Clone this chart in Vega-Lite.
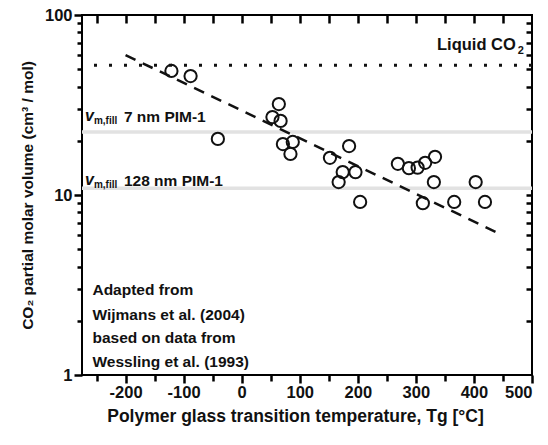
{
  "$schema": "https://vega.github.io/schema/vega-lite/v6.json",
  "width": 450,
  "height": 360,
  "autosize": "none",
  "padding": {"left": 82, "top": 15, "right": 16, "bottom": 70},
  "background": "white",
  "config": {
    "view": {"stroke": "black", "strokeWidth": 2},
    "font": "Liberation Sans",
    "axis": {"domain": false, "grid": false, "ticks": true, "tickColor": "black", "tickOpacity": 1, "tickWidth": 2.5, "labelColor": "#111", "titleColor": "#111", "zindex": 1},
    "text": {"font": "Liberation Sans", "fontWeight": "bold", "color": "#111"}
  },
  "resolve": {"axis": {"x": "independent", "y": "independent"}},
  "datasets": {
    "points": [
      {"tg": -121, "v": 48.9}, {"tg": -88, "v": 45.8}, {"tg": -41, "v": 20.5},
      {"tg": 53, "v": 27.1}, {"tg": 64, "v": 32}, {"tg": 67, "v": 25.8},
      {"tg": 71, "v": 19.2}, {"tg": 84, "v": 16.9}, {"tg": 88, "v": 19.7},
      {"tg": 152, "v": 16.1}, {"tg": 167, "v": 11.8}, {"tg": 174, "v": 13.4},
      {"tg": 185, "v": 18.7}, {"tg": 196, "v": 13.4}, {"tg": 204, "v": 9.15},
      {"tg": 269, "v": 14.9}, {"tg": 288, "v": 14.1}, {"tg": 303, "v": 14.2},
      {"tg": 312, "v": 9.0}, {"tg": 316, "v": 15.1}, {"tg": 331, "v": 11.8},
      {"tg": 333, "v": 16.3}, {"tg": 366, "v": 9.15}, {"tg": 403, "v": 11.8},
      {"tg": 419, "v": 9.15}
    ],
    "fit": [{"tg": -200, "v": 59.9}, {"tg": 438, "v": 6.22}],
    "note": [
      {"tg": -257, "v": 2.78, "label": "Adapted from"},
      {"tg": -257, "v": 2.02, "label": "Wijmans et al. (2004)"},
      {"tg": -257, "v": 1.51, "label": "based on data from"},
      {"tg": -257, "v": 1.11, "label": "Wessling et al. (1993)"}
    ],
    "pim": [
      {"tg": -270, "v": 27.1, "label": "7 nm PIM-1"},
      {"tg": -270, "v": 12.0, "label": "128 nm PIM-1"}
    ],
    "liquid": [{"tg": 486, "v": 68.1, "label": "Liquid CO", "sub": "2"}]
  },
  "layer": [
    {
      "data": {"values": [{"v": 22.4}, {"v": 10.9}]},
      "mark": {"type": "rule", "color": "#e2e2e2", "strokeWidth": 3.5},
      "encoding": {"y": {"field": "v", "type": "quantitative", "axis": null}}
    },
    {
      "data": {"values": [{"v": 52.5}]},
      "mark": {"type": "rule", "color": "#111", "strokeWidth": 3, "strokeDash": [3, 12]},
      "encoding": {"y": {"field": "v", "type": "quantitative", "axis": null}}
    },
    {
      "data": {"name": "points"},
      "mark": {"type": "point", "shape": "circle", "filled": false, "stroke": "#111", "strokeWidth": 2, "size": 150, "opacity": 1},
      "encoding": {
        "x": {
          "field": "tg", "type": "quantitative",
          "scale": {"domain": [-275, 500], "nice": false, "zero": false},
          "axis": {
            "orient": "bottom", "values": [-200, -100, 0, 100, 200, 300, 400, 500],
            "labelExpr": "'' + datum.value",
            "tickColor": "black", "tickSize": 8, "labelPadding": 1,
            "labelFont": "Liberation Sans", "labelFontWeight": "bold", "labelFontSize": 16.5,
            "title": "Polymer glass transition temperature, Tg  [°C]",
            "titleFont": "Liberation Sans", "titleFontWeight": "bold", "titleFontSize": 17.5, "titlePadding": 7,
            "titleX": 213
          }
        },
        "y": {
          "field": "v", "type": "quantitative",
          "scale": {"type": "log", "domain": [1, 100], "nice": false},
          "axis": {
            "orient": "left", "values": [1, 10, 100], "format": "d",
            "tickColor": "black", "tickSize": 8, "labelPadding": 2,
            "labelFont": "Liberation Sans", "labelFontWeight": "bold", "labelFontSize": 16.5,
            "title": "CO₂ partial molar volume (cm³ / mol)",
            "titleFont": "Liberation Sans", "titleFontWeight": "bold", "titleFontSize": 15.5, "titlePadding": 9,
            "titleY": 180
          }
        }
      }
    },
    {
      "data": {"name": "fit"},
      "mark": {"type": "line", "color": "#111", "strokeWidth": 2.5, "strokeDash": [11, 8]},
      "encoding": {
        "x": {
          "field": "tg", "type": "quantitative",
          "axis": {"orient": "bottom", "offset": -360, "values": [-250, -200, -150, -100, -50, 0, 50, 100, 150, 200, 250, 300, 350, 400, 450], "labels": false, "title": null, "tickColor": "black", "tickSize": 8}
        },
        "y": {
          "field": "v", "type": "quantitative",
          "axis": {"orient": "left", "offset": -450, "values": [2, 3, 4, 5, 6, 7, 8, 9, 10, 20, 30, 40, 50, 60, 70, 80, 90], "labels": false, "title": null, "tickColor": "black", "tickSize": 6}
        }
      }
    },
    {
      "data": {"name": "note"},
      "mark": {"type": "text", "align": "left", "baseline": "alphabetic", "fontSize": 15.5},
      "encoding": {
        "x": {
          "field": "tg", "type": "quantitative",
          "axis": {"orient": "bottom", "values": [-250, -150, -50, 50, 150, 250, 350, 450], "labels": false, "title": null, "tickColor": "black", "tickSize": 6}
        },
        "y": {
          "field": "v", "type": "quantitative",
          "axis": {"orient": "left", "values": [2, 3, 4, 5, 6, 7, 8, 9, 20, 30, 40, 50, 60, 70, 80, 90], "labels": false, "title": null, "tickColor": "black", "tickSize": 5}
        },
        "text": {"field": "label"}
      }
    },
    {
      "data": {"name": "pim"},
      "mark": {"type": "text", "align": "left", "baseline": "middle", "fontSize": 16, "fontStyle": "italic", "dy": -1},
      "encoding": {
        "x": {"field": "tg", "type": "quantitative", "axis": null},
        "y": {"field": "v", "type": "quantitative", "axis": null},
        "text": {"value": "v"}
      }
    },
    {
      "data": {"name": "pim"},
      "mark": {"type": "text", "align": "left", "baseline": "middle", "fontSize": 10, "dx": 9, "dy": 4},
      "encoding": {
        "x": {"field": "tg", "type": "quantitative", "axis": null},
        "y": {"field": "v", "type": "quantitative", "axis": null},
        "text": {"value": "m,fill"}
      }
    },
    {
      "data": {"name": "pim"},
      "mark": {"type": "text", "align": "left", "baseline": "middle", "fontSize": 15.5, "dx": 39},
      "encoding": {
        "x": {"field": "tg", "type": "quantitative", "axis": null},
        "y": {"field": "v", "type": "quantitative", "axis": null},
        "text": {"field": "label"}
      }
    },
    {
      "data": {"name": "liquid"},
      "mark": {"type": "text", "align": "right", "baseline": "middle", "fontSize": 16.5, "dx": -8},
      "encoding": {
        "x": {"field": "tg", "type": "quantitative", "axis": null},
        "y": {"field": "v", "type": "quantitative", "axis": null},
        "text": {"field": "label"}
      }
    },
    {
      "data": {"name": "liquid"},
      "mark": {"type": "text", "align": "right", "baseline": "middle", "fontSize": 11, "dy": 6},
      "encoding": {
        "x": {"field": "tg", "type": "quantitative", "axis": null},
        "y": {"field": "v", "type": "quantitative", "axis": null},
        "text": {"field": "sub"}
      }
    }
  ]
}
